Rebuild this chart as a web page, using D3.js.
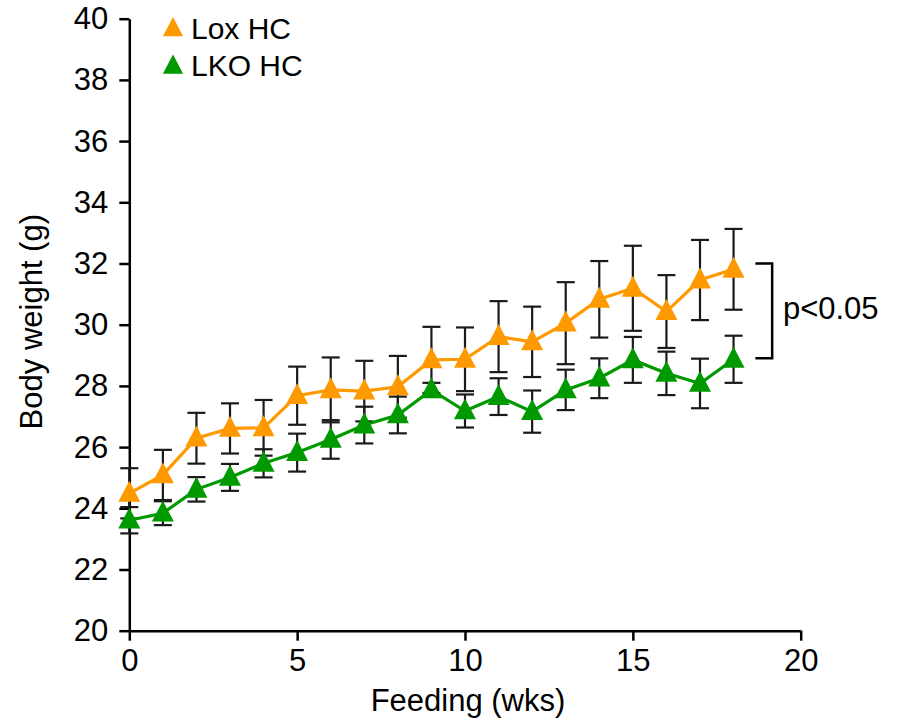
<!DOCTYPE html>
<html>
<head>
<meta charset="utf-8">
<script src="https://cdn.jsdelivr.net/npm/d3@7"></script>
<style>
  body { margin: 0; background: #fff; }
  text { font-family: "Liberation Sans", Arial, sans-serif; fill: #000; }
</style>
</head>
<body>
<div id="chart"></div>
<script>
// weeks of feeding
const weeks = [0, 1, 2, 3, 4, 5, 6, 7, 8, 9, 10, 11, 12, 13, 14, 15, 16, 17, 18];

// Lox HC mean body weight (g) and SEM
const loxMean = [24.49, 25.09, 26.29, 26.61, 26.63, 27.68, 27.87, 27.83, 27.97, 28.85, 28.87,
  29.61, 29.44, 30.05, 30.83, 31.19, 30.43, 31.46, 31.81];
const loxErr = [0.82, 0.82, 0.83, 0.82, 0.91, 0.95, 1.06, 0.99, 1.01, 1.08, 1.04,
  1.16, 1.15, 1.34, 1.25, 1.39, 1.19, 1.31, 1.32];

// LKO HC mean body weight (g) and SEM
const lkoMean = [23.61, 23.84, 24.62, 25.01, 25.47, 25.82, 26.25, 26.72, 27.05, 27.87, 27.18,
  27.65, 27.16, 27.87, 28.25, 28.85, 28.41, 28.08, 28.87];
const lkoErr = [0.43, 0.39, 0.40, 0.44, 0.46, 0.62, 0.63, 0.60, 0.60, 0.23, 0.54,
  0.60, 0.69, 0.66, 0.65, 0.75, 0.71, 0.81, 0.77];

const xTicks = [0, 5, 10, 15, 20];
const yTicks = [20, 22, 24, 26, 28, 30, 32, 34, 36, 38, 40];

const seriesNames = ["Lox HC", "LKO HC"];
const seriesColors = ["#ff9900", "#009900"];

// significance bracket (data units)
const bracketY = [32.0, 28.9];
const pLabel = "p<0.05";

const W = 899, H = 722;
const margin = { left: 129.3, top: 18.7, right: 98.3, bottom: 91.3 };

const svg = d3.select("#chart").append("svg")
  .attr("width", W).attr("height", H);

const x = d3.scaleLinear().domain([0, 20]).range([margin.left, W - margin.right]);
const y = d3.scaleLinear().domain([20, 40]).range([H - margin.bottom, margin.top]);

const fontSize = 31;

// axes
const xAxis = svg.append("g")
  .attr("transform", `translate(0,${y(20)})`)
  .call(d3.axisBottom(x).tickValues(xTicks).tickSize(10).tickSizeOuter(0).tickPadding(8));
const yAxis = svg.append("g")
  .attr("transform", `translate(${x(0)},0)`)
  .call(d3.axisLeft(y).tickValues(yTicks).tickSize(10).tickSizeOuter(0).tickPadding(11));

[xAxis, yAxis].forEach(g => {
  g.selectAll("path, line").attr("stroke", "#000").attr("stroke-width", 2.5);
  g.selectAll("text").style("font-size", fontSize + "px").attr("fill", "#000")
    .style("font-family", '"Liberation Sans", Arial, sans-serif');
});

// axis titles
svg.append("text")
  .attr("x", (x(0) + x(20)) / 2 + 3)
  .attr("y", 711)
  .attr("text-anchor", "middle")
  .style("font-size", fontSize + "px")
  .text("Feeding (wks)");

svg.append("text")
  .attr("transform", `translate(42,${(y(20) + y(40)) / 2 - 3}) rotate(-90)`)
  .attr("text-anchor", "middle")
  .style("font-size", fontSize + "px")
  .text("Body weight (g)");

const series = [
  { name: seriesNames[0], color: seriesColors[0], mean: loxMean, err: loxErr },
  { name: seriesNames[1], color: seriesColors[1], mean: lkoMean, err: lkoErr }
];

// error bars
const capW = 9;
series.forEach(s => {
  const g = svg.append("g").attr("stroke", "#1a1a1a").attr("stroke-width", 2.2).attr("fill", "none");
  weeks.forEach((w, i) => {
    const cx = x(w), hi = y(s.mean[i] + s.err[i]), lo = y(s.mean[i] - s.err[i]);
    g.append("line").attr("x1", cx).attr("x2", cx).attr("y1", hi).attr("y2", lo);
    g.append("line").attr("x1", cx - capW).attr("x2", cx + capW).attr("y1", hi).attr("y2", hi);
    g.append("line").attr("x1", cx - capW).attr("x2", cx + capW).attr("y1", lo).attr("y2", lo);
  });
});

// lines
const line = d3.line().x(d => x(d[0])).y(d => y(d[1]));
series.forEach(s => {
  svg.append("path")
    .datum(weeks.map((w, i) => [w, s.mean[i]]))
    .attr("d", line)
    .attr("fill", "none")
    .attr("stroke", s.color)
    .attr("stroke-width", 3.2);
});

// markers: slightly tall triangle, ~22 wide x 21 high
const tallTriangle = {
  draw(ctx, size) {
    const w = Math.sqrt(size) * 1.05, h = w * 0.95;
    ctx.moveTo(0, -h * 0.6);
    ctx.lineTo(w / 2, h * 0.4);
    ctx.lineTo(-w / 2, h * 0.4);
    ctx.closePath();
  }
};
const tri = d3.symbol().type(tallTriangle).size(440);
series.forEach(s => {
  svg.append("g").selectAll("path")
    .data(weeks.map((w, i) => [w, s.mean[i]]))
    .join("path")
    .attr("d", tri)
    .attr("transform", d => `translate(${x(d[0])},${y(d[1])})`)
    .attr("fill", s.color);
});

// legend
const legendTri = d3.symbol().type(tallTriangle).size(370);
const legend = svg.append("g");
series.forEach((s, i) => {
  const ly = 28.5 + i * 37.5;
  legend.append("path")
    .attr("d", legendTri)
    .attr("transform", `translate(173,${ly})`)
    .attr("fill", s.color);
  legend.append("text")
    .attr("x", 191)
    .attr("y", ly + 10)
    .style("font-size", "30px")
    .text(s.name);
});

// significance bracket
const bx0 = x(18.65), bx1 = x(19.15);
svg.append("path")
  .attr("d", `M${bx0},${y(bracketY[0])}H${bx1}V${y(bracketY[1])}H${bx0}`)
  .attr("fill", "none")
  .attr("stroke", "#000")
  .attr("stroke-width", 2.5);

svg.append("text")
  .attr("x", x(19.47))
  .attr("y", (y(bracketY[0]) + y(bracketY[1])) / 2 + 8)
  .style("font-size", fontSize + "px")
  .text(pLabel);
</script>
</body>
</html>
